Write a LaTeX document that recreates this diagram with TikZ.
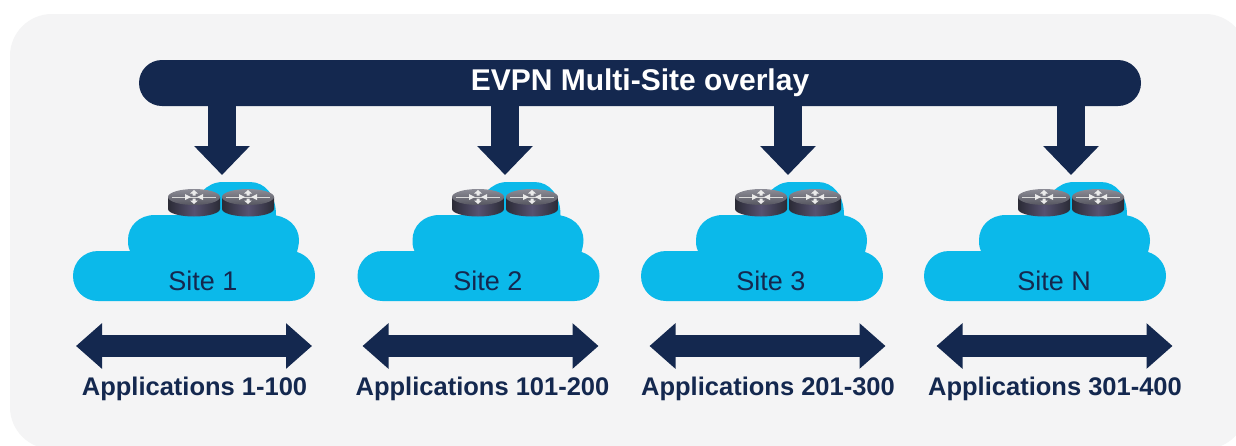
\documentclass[tikz,border=0pt]{standalone}
\usepackage{fontspec}
\setmainfont{Liberation Sans}
\usetikzlibrary{arrows.meta}
\definecolor{navy}{HTML}{14284F}
\definecolor{cloudblue}{HTML}{0BB9EA}
\definecolor{panel}{HTML}{F4F4F5}
\definecolor{rdark}{HTML}{2B2B36}
\definecolor{rmid}{HTML}{575270}
\definecolor{rtopa}{HTML}{8C8C96}
\definecolor{rtopb}{HTML}{565660}
\tikzset{
  x=1pt,y=-1pt,
  barnode/.style={fill=navy,text=white,font=\bfseries\fontsize{30}{33}\selectfont,rounded corners=23pt,minimum width=1002pt,minimum height=46pt,inner sep=0pt},
  downarrow/.style={navy,line width=28pt,-{Triangle[width=54pt,length=29pt]}},
  spanarrow/.style={navy,line width=22pt,{Triangle[width=44pt,length=26pt]}-{Triangle[width=44pt,length=26pt]}},
  sitelabel/.style={text=navy,font=\fontsize{27}{30}\selectfont,inner sep=0pt},
  applabel/.style={text=navy,font=\bfseries\fontsize{25.5}{28}\selectfont,inner sep=0pt},
  pics/cloudshape/.style={code={
    \fill[cloudblue] (25,301) .. controls (11,301) and (0,290) .. (0,276)
      .. controls (0,262) and (11,251) .. (25,251) -- (57,251)
      .. controls (55,247) and (55,243) .. (55,240)
      .. controls (55,226) and (66,215) .. (82,215) -- (120,215)
      .. controls (122,196) and (133,182) .. (150,182) -- (177,182)
      .. controls (192,182) and (203,195) .. (203,215) -- (197,215)
      .. controls (214,215) and (226,226) .. (226,240)
      .. controls (226,244) and (225,248) .. (224,252)
      .. controls (234,255) and (242,264) .. (242,276)
      .. controls (242,290) and (231,301) .. (217,301) -- cycle;
  }},
  pics/routershape/.style={code={
    \shade[left color=rdark,right color=rdark,middle color=rmid]
      (-26,0) -- (-26,12) arc[start angle=180,end angle=360,x radius=26pt,y radius=7.5pt] -- (26,0) -- cycle;
    \shade[top color=rtopa,bottom color=rtopb] (0,0) ellipse[x radius=26pt,y radius=8pt];
    \draw[white!85!black,line width=0.9pt] (-22,0) -- (22,0);
    \fill[white!92!black] (0,-7) -- (-4,-3.5) -- (-1.5,-3.5) -- (-1.5,-1.5) -- (1.5,-1.5) -- (1.5,-3.5) -- (4,-3.5) -- cycle;
    \fill[white!92!black] (0,7) -- (-4,3.5) -- (-1.5,3.5) -- (-1.5,1.5) -- (1.5,1.5) -- (1.5,3.5) -- (4,3.5) -- cycle;
    \fill[white!92!black] (-3,0) -- (-9,-3) -- (-9,3) -- cycle;
    \fill[white!92!black] (3,0) -- (9,-3) -- (9,3) -- cycle;
  }}
}
\begin{document}
\begin{tikzpicture}
\useasboundingbox (0,0) rectangle (1236,445);
\fill[white] (0,0) rectangle (1236,445);
\begin{scope}
  \clip (0,0) rectangle (1236,445);
  \fill[panel,rounded corners=42pt] (10,14) rectangle (1247,449);
\end{scope}
\node[barnode] (bar) at (640,83) {\raisebox{-3pt}{EVPN Multi-Site overlay}};
\foreach \n/\ax/\cx/\rx/\lx/\tx/\alx/\txt/\app in {
  1/222/0/0/0/203/194.5/Site 1/Applications 1-100,
  2/505/284.5/284/286.5/488/482.5/Site 2/Applications 101-200,
  3/788/568/567/573.5/771/768/Site 3/Applications 201-300,
  4/1071/851/850/860.5/1054/1055/Site N/Applications 301-400}{
  \coordinate (tip\n) at (\ax,175);
  \draw[downarrow] (bar.south -| tip\n) -- (tip\n);
  \pic at (73+\cx,0) {cloudshape};
  \pic at (194+\rx,197) {routershape};
  \pic at (248+\rx,197) {routershape};
  \node[sitelabel] (site\n) at (\tx,281) {\txt};
  \coordinate (la\n) at (76+\lx,346);
  \coordinate (ra\n) at (312+\lx,346);
  \draw[spanarrow] (la\n) -- (ra\n);
  \node[applabel] (app\n) at (\alx,389) {\app};
}
\end{tikzpicture}
\end{document}
